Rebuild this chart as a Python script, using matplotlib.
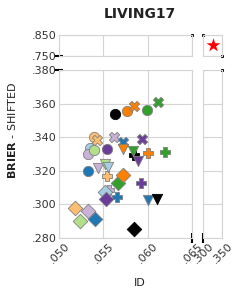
import matplotlib
matplotlib.use("Agg")
import matplotlib.pyplot as plt
from matplotlib.ticker import FuncFormatter

# palette (Paired) + black
blue = "#1f78b4"
lblue = "#a6cee3"
orange = "#ff7f00"
lorange = "#fdbf6f"
green = "#33a02c"
lgreen = "#b2df8a"
purple = "#6a3d9a"
lpurple = "#cab2d6"
black = "#000000"

# points: ID value, BRIER-shifted value, colour, marker (drawn in this order)
id_vals = [
    0.0563, 0.0577, 0.0599, 0.0539, 0.0535, 0.0533, 0.0540, 0.0554, 0.0533,
    0.0585, 0.0612, 0.0543, 0.0562, 0.0594, 0.0572,
    0.0585, 0.0600, 0.0620, 0.0554, 0.0593, 0.0565, 0.0556,
    0.0572, 0.0583, 0.0589, 0.0544, 0.0552, 0.0555, 0.0600, 0.0610,
    0.0518, 0.0533, 0.0524, 0.0541, 0.0552, 0.0553, 0.0566, 0.0572, 0.0585,
]
brier_vals = [
    0.3536, 0.3558, 0.3562, 0.3403, 0.3336, 0.3300, 0.3324, 0.3330, 0.3199,
    0.3586, 0.3608, 0.3383, 0.3399, 0.3387, 0.3369,
    0.3294, 0.3308, 0.3310, 0.3169, 0.3129, 0.3046, 0.3085,
    0.3330, 0.3318, 0.3260, 0.3215, 0.3240, 0.3225, 0.3026, 0.3030,
    0.2977, 0.2963, 0.2901, 0.2911, 0.3076, 0.3032, 0.3129, 0.3175, 0.2854,
]
colors = [
    black, orange, green, lorange, lblue, lpurple, lgreen, purple, blue,
    orange, green, lorange, lpurple, purple, blue,
    black, orange, green, lorange, purple, blue, lpurple,
    orange, green, purple, lpurple, lgreen, lblue, blue, black,
    lorange, lpurple, lgreen, blue, lblue, purple, green, orange, black,
]
markers = ["o"] * 9 + ["X"] * 6 + ["P"] * 7 + ["v"] * 8 + ["D"] * 9

star_id = [0.326]
star_brier = [0.802]

grid_c = "#d4d4d4"
text_c = "#333333"


def fmt(v, pos):
    return ("%.3f" % v).lstrip("0")


fig = plt.figure(figsize=(2.44, 2.99), dpi=100)
W, H = 244.0, 299.0


def axes_px(x0, y0, x1, y1):
    return fig.add_axes([x0 / W, 1 - y1 / H, (x1 - x0) / W, (y1 - y0) / H])


ax_tl = axes_px(59, 35, 192, 56)
ax_tr = axes_px(203, 35, 222, 56)
ax_bl = axes_px(59, 70, 192, 238)
ax_br = axes_px(203, 70, 222, 238)

for ax in [ax_tl, ax_tr, ax_bl, ax_br]:
    ax.set_axisbelow(True)
    ax.grid(True, color=grid_c, linewidth=0.8)
    for s in ax.spines.values():
        s.set_color(grid_c)
        s.set_linewidth(0.8)
    ax.tick_params(length=0, labelsize=8, colors=text_c, pad=2)
    ax.xaxis.set_major_formatter(FuncFormatter(fmt))
    ax.yaxis.set_major_formatter(FuncFormatter(fmt))

for ax in [ax_tl, ax_bl]:
    ax.set_xlim(0.050, 0.065)
    ax.set_xticks([0.050, 0.055, 0.060, 0.065])
for ax in [ax_tr, ax_br]:
    ax.set_xlim(0.300, 0.350)
    ax.set_xticks([0.300, 0.350])
    ax.set_yticklabels([])
for ax in [ax_tl, ax_tr]:
    ax.set_ylim(0.750, 0.850)
    ax.set_yticks([0.750, 0.850])
    ax.set_xticklabels([])
for ax in [ax_bl, ax_br]:
    ax.set_ylim(0.280, 0.380)
    ax.set_yticks([0.280, 0.300, 0.320, 0.340, 0.360, 0.380])
    for lab in ax.get_xticklabels():
        lab.set_rotation(45)
        lab.set_ha("center")
ax_tr.set_yticklabels([])
ax_br.set_yticklabels([])

for x, y, c, m in zip(id_vals, brier_vals, colors, markers):
    ec = "#7f7f7f" if c != black else black
    ax_bl.scatter(x, y, s=55, c=c, marker=m, edgecolors=ec, linewidths=0.6,
                  clip_on=False, zorder=3)

ax_tr.scatter(star_id, star_brier, s=110, c="#ff0000", marker="*",
              linewidths=0, zorder=3)

# break marks
brk = dict(color="k", linestyle="none", transform=None, clip_on=False)
ax_tl.plot([0], [0], marker="_", markersize=6, mew=1.5, color="k",
           transform=ax_tl.transAxes, clip_on=False)
ax_bl.plot([0], [1], marker="_", markersize=6, mew=1.5, color="k",
           transform=ax_bl.transAxes, clip_on=False)
ax_bl.plot([1], [0], marker="|", markersize=7, mew=1.5, color="k",
           transform=ax_bl.transAxes, clip_on=False)
ax_br.plot([0], [0], marker="|", markersize=7, mew=1.5, color="k",
           transform=ax_br.transAxes, clip_on=False)
ax_tl.plot([1], [1], marker="s", markersize=1.2, color="k",
           transform=ax_tl.transAxes, clip_on=False)
ax_tr.plot([0], [1], marker="s", markersize=1.2, color="k",
           transform=ax_tr.transAxes, clip_on=False)
ax_tr.plot([1], [0], marker="s", markersize=1.2, color="k",
           transform=ax_tr.transAxes, clip_on=False)
ax_br.plot([1], [1], marker="s", markersize=1.2, color="k",
           transform=ax_br.transAxes, clip_on=False)

fig.text(140 / W, 1 - 14 / H, "LIVING17", ha="center", va="center",
         fontsize=10, fontweight="bold", color="#222222")
fig.text(12 / W, 1 - 130 / H, r"$\mathbf{BRIER}$ - SHIFTED", rotation=90,
         ha="center", va="center", fontsize=8, color="#222222")
fig.text(140 / W, 1 - 283 / H, "ID", ha="center", va="center",
         fontsize=8, color="#222222")

fig.savefig("out.png", dpi=100)
